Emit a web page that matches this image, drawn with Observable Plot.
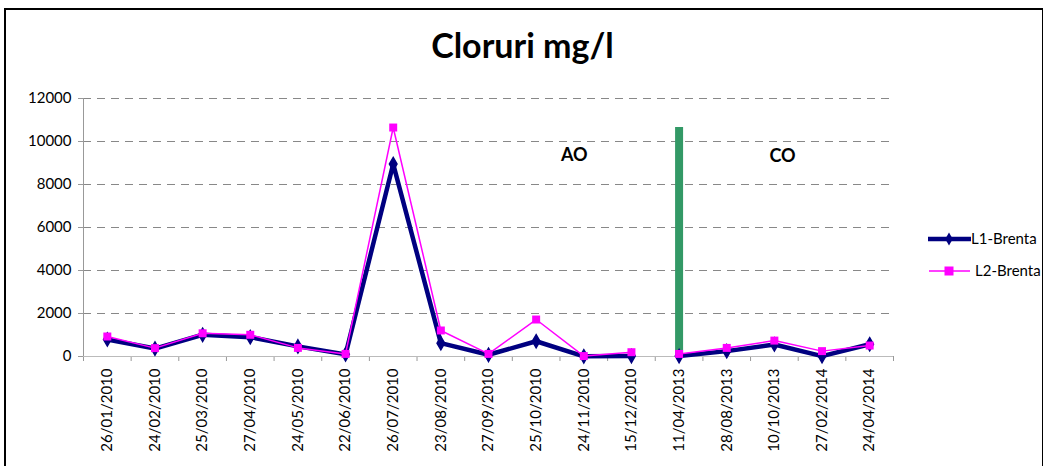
<!DOCTYPE html>
<html><head><meta charset="utf-8">
<script src="https://cdn.jsdelivr.net/npm/d3@7"></script>
<script src="https://cdn.jsdelivr.net/npm/@observablehq/plot@0.6"></script>
<style>
body{margin:0;background:#fff;font-family:Lato,"Open Sans",sans-serif;}
#wrap{position:relative;width:1045px;height:466px;overflow:hidden;background:#fff;}
#frame{position:absolute;left:4px;top:8px;width:1039px;height:480px;border-left:2px solid #000;border-top:2px solid #000;border-right:1px solid #000;box-sizing:border-box;pointer-events:none;}
#title{position:absolute;left:0;width:1045px;top:27px;text-align:center;font-weight:bold;font-size:34px;line-height:36px;color:#000;}
#chart{position:absolute;left:0;top:0;}
#legend{position:absolute;left:920px;top:222px;}
</style></head>
<body>
<div id="wrap">
  <div id="chart"></div>
  <div id="title">Cloruri mg/l</div>
  <div id="legend"></div>
  <div id="frame"></div>
</div>
<script>
// ---- data ----
const dates = ["26/01/2010","24/02/2010","25/03/2010","27/04/2010","24/05/2010","22/06/2010","26/07/2010","23/08/2010","27/09/2010","25/10/2010","24/11/2010","15/12/2010","11/04/2013","28/08/2013","10/10/2013","27/02/2014","24/04/2014"];
const periods = ["AO","AO","AO","AO","AO","AO","AO","AO","AO","AO","AO","AO","CO","CO","CO","CO","CO"];
const seriesNames = ["L1-Brenta","L2-Brenta"];
const l1Values = [790,370,1010,900,470,100,8950,620,80,710,10,20,20,250,560,20,570];
const l2Values = [930,390,1080,1010,400,120,10650,1210,120,1720,20,200,120,400,740,250,510];
const yTicks = [0,2000,4000,6000,8000,10000,12000];
const dividerDate = ["11/04/2013"];
const dividerValue = [10650];
const annotationLabels = ["AO","CO"];
const annotationX = [10.3, 14.67];   // in category units
const annotationY = [9350, 9300];

// ---- table ----
const rows = [];
dates.forEach((d,i)=>{
  rows.push({i: i+0.5, date:d, period:periods[i], series:seriesNames[0], value:l1Values[i]});
});
dates.forEach((d,i)=>{
  rows.push({i: i+0.5, date:d, period:periods[i], series:seriesNames[1], value:l2Values[i]});
});
const l1 = rows.filter(r=>r.series===seriesNames[0]);
const l2 = rows.filter(r=>r.series===seriesNames[1]);
const centers = dates.map((d,i)=>i+0.5);
const bounds = d3.range(dates.length+1);
const divider = dividerDate.map((d,k)=>({i: dates.indexOf(d)+0.5, v: dividerValue[k]}));
const annos = annotationLabels.map((t,k)=>({t, x: annotationX[k], y: annotationY[k]}));

const navy = "#000080", magenta = "#FF00FF", green = "#339966", gray = "#999999";

const chart = Plot.plot({
  width: 1045, height: 466,
  marginLeft: 83, marginRight: 152, marginTop: 98, marginBottom: 110,
  style: {fontFamily: "Lato, 'Open Sans', sans-serif", fontSize: "15px", color: "#000", background: "transparent"},
  x: {type: "linear", domain: [0, dates.length]},
  y: {domain: [0, 12000]},
  marks: [
    Plot.gridY(yTicks.filter(t=>t>0), {stroke: "#888", strokeOpacity: 1, strokeDasharray: "8,6"}),
    Plot.axisY(yTicks, {tickSize: 5, tickPadding: 7, stroke: gray, fontSize: 15, tickFormat: d=>String(d)}),
    Plot.axisX(bounds, {tickSize: 5, stroke: gray, tickFormat: ()=>""}),
    Plot.axisX(centers, {tickSize: 0, tickPadding: 12, tickRotate: -90, fontSize: 15, tickFormat: d=>dates[Math.floor(d)]}),
    Plot.ruleX([0], {stroke: gray, strokeWidth: 1}),
    Plot.ruleY([0], {stroke: "#bbb", strokeWidth: 1.2}),
    Plot.ruleX(divider, {x: "i", y1: 0, y2: "v", stroke: green, strokeWidth: 8}),
    Plot.line(l1, {x: "i", y: "value", z: "period", stroke: navy, strokeWidth: 4.5, strokeLinejoin: "miter"}),
    Plot.dot(l1, {x: "i", y: "value", symbol: "diamond", r: 4, fill: navy, stroke: navy}),
    Plot.line(l2, {x: "i", y: "value", z: "period", stroke: magenta, strokeWidth: 1.5}),
    Plot.dot(l2, {x: "i", y: "value", symbol: "square", r: 4.5, fill: magenta, stroke: "none"}),
    Plot.text(annos, {x: "x", y: "y", text: "t", fontSize: 18, fontWeight: "bold", fill: "#000"})
  ]
});
document.getElementById("chart").appendChild(chart);

// ---- legend ----
const lg = d3.select("#legend").append("svg").attr("width", 125).attr("height", 70)
  .style("font-family", "Lato, 'Open Sans', sans-serif").style("font-size", "15px");
const g1 = lg.append("g").attr("transform", "translate(0,17)");
g1.append("line").attr("x1", 8).attr("x2", 51).attr("stroke", navy).attr("stroke-width", 4.5);
g1.append("path").attr("d", d3.symbol(d3.symbolDiamond, 50)()).attr("transform", "translate(29,0)").attr("fill", navy);
g1.append("text").attr("x", 51).attr("dy", "0.35em").text(seriesNames[0]);
const g2 = lg.append("g").attr("transform", "translate(0,49)");
g2.append("line").attr("x1", 9).attr("x2", 50).attr("stroke", magenta).attr("stroke-width", 1.5);
g2.append("rect").attr("x", 24.5).attr("y", -4.5).attr("width", 9).attr("height", 9).attr("fill", magenta);
g2.append("text").attr("x", 55).attr("dy", "0.35em").text(seriesNames[1]);
</script>
</body></html>
